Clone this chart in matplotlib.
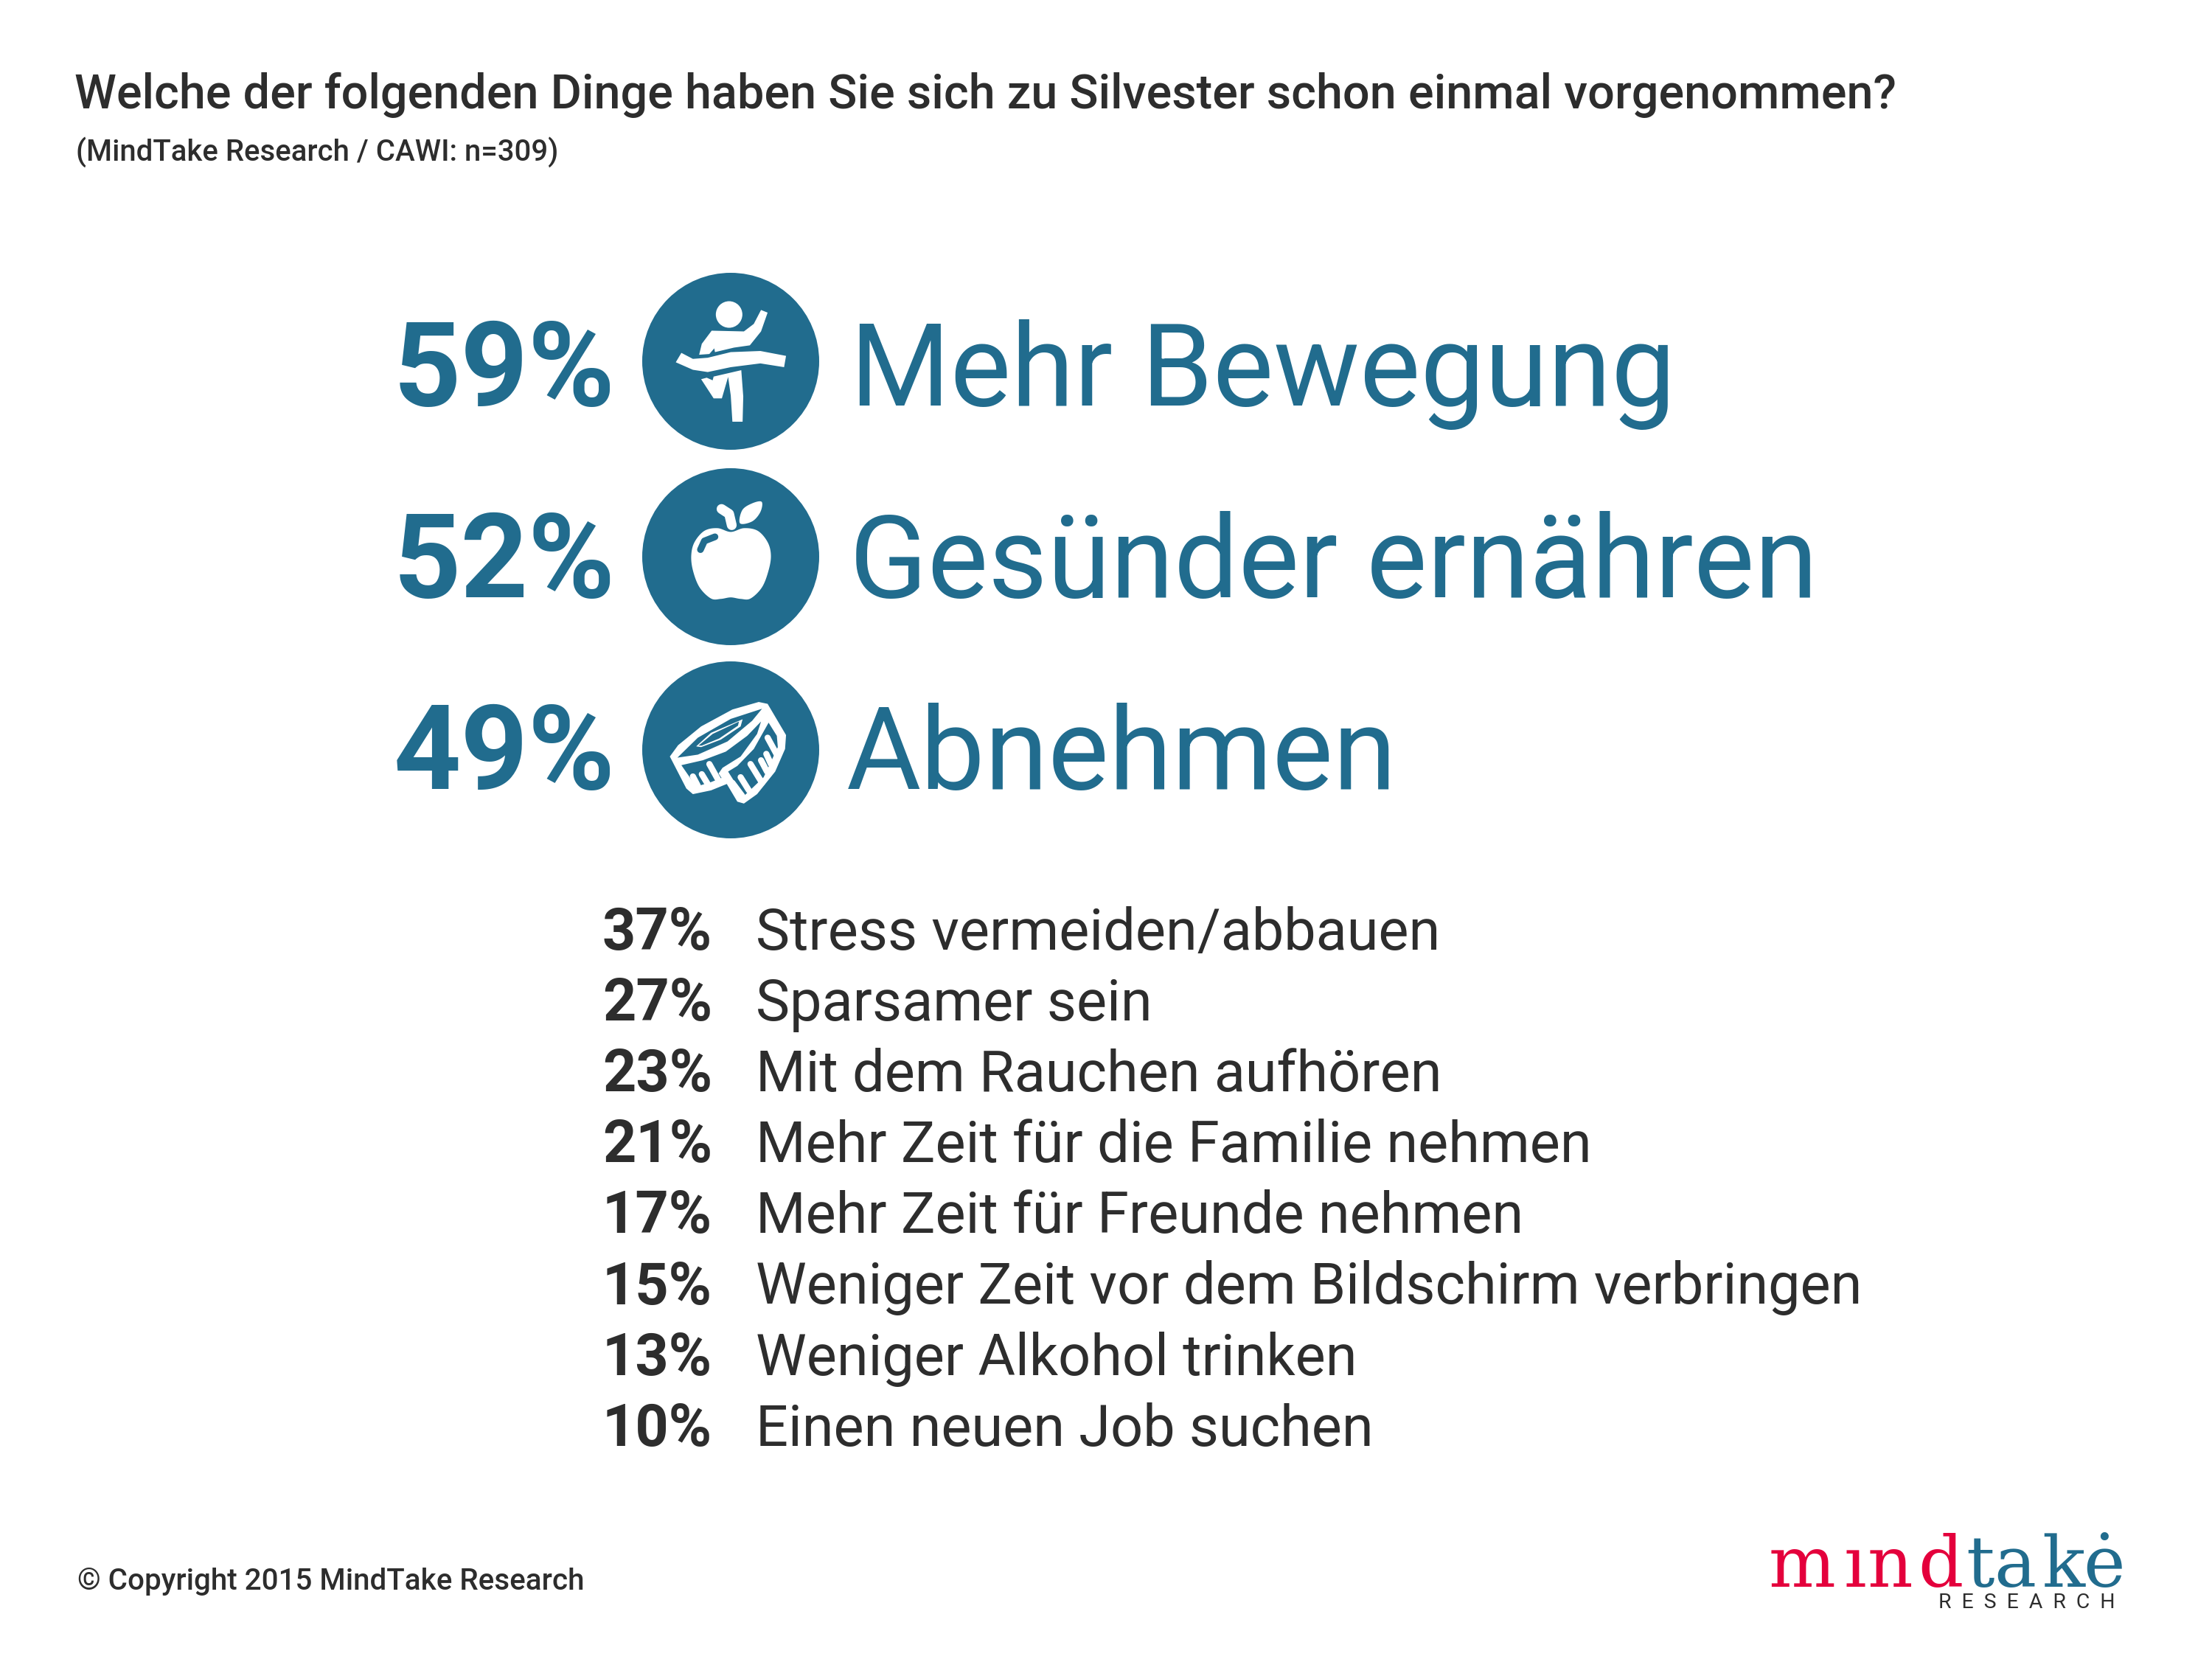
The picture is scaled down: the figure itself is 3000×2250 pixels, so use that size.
import matplotlib
matplotlib.use("Agg")
import matplotlib.pyplot as plt
from matplotlib.patches import Circle, Polygon
import numpy as np

TEAL = "#216C8E"
DARK = "#2D2D2D"
RED = "#E4003C"

title = "Welche der folgenden Dinge haben Sie sich zu Silvester schon einmal vorgenommen?"
subtitle = "(MindTake Research / CAWI: n=309)"
footer = "© Copyright 2015 MindTake Research"

top_labels = ["Mehr Bewegung", "Gesünder ernähren", "Abnehmen"]
top_values = [59, 52, 49]

rest_labels = ["Stress vermeiden/abbauen", "Sparsamer sein", "Mit dem Rauchen aufhören",
               "Mehr Zeit für die Familie nehmen", "Mehr Zeit für Freunde nehmen",
               "Weniger Zeit vor dem Bildschirm verbringen", "Weniger Alkohol trinken",
               "Einen neuen Job suchen"]
rest_values = [37, 27, 23, 21, 17, 15, 13, 10]

plt.rcParams["font.family"] = ["Roboto", "DejaVu Sans"]

fig = plt.figure(figsize=(10, 7.5), dpi=300)
ax = fig.add_axes([0, 0, 1, 1])
# axes in image pixels, y going down
ax.set_xlim(0, 3000)
ax.set_ylim(2250, 0)
ax.axis("off")


def smooth(pts, n=12):
    # closed catmull-rom through the outline points
    p = np.array(pts, dtype=float)
    out = []
    for i in range(len(p)):
        p0, p1, p2, p3 = p[i - 1], p[i], p[(i + 1) % len(p)], p[(i + 2) % len(p)]
        for t in np.linspace(0, 1, n, endpoint=False):
            out.append(0.5 * (2 * p1 + (p2 - p0) * t + (2 * p0 - 5 * p1 + 4 * p2 - p3) * t ** 2
                              + (3 * p1 - p0 - 3 * p2 + p3) * t ** 3))
    return np.array(out)


def conv(pts):
    p = np.array(pts, dtype=float)
    return np.column_stack([500 + p[:, 0] / 2.24, 350 + p[:, 1] / 1.96])


def shape(pts, color="white", curved=False, z=3):
    p = conv(pts)
    if curved:
        p = smooth(p)
    ax.add_patch(Polygon(p, closed=True, fc=color, ec="none", zorder=z))


def stroke(pts, color="white", lw=3.0, z=4):
    p = conv(pts)
    ax.plot(p[:, 0], p[:, 1], color=color, lw=lw, solid_capstyle="round", zorder=z)


def runner():
    c = conv([(1095, 150)])[0]
    ax.add_patch(Circle(c, 18, fc="white", ec="none", zorder=3))
    shape([(1042, 193), (1140, 195), (1170, 175), (1192, 138), (1212, 145), (1192, 195), (1158, 232),
           (1110, 238), (1052, 250), (1050, 240), (1035, 255), (1004, 257), (1012, 228)])
    shape([(950, 252), (985, 268), (1030, 265), (1100, 250), (1190, 247), (1268, 260), (1262, 290),
           (1190, 280), (1100, 290), (1030, 303), (985, 297), (933, 277)])
    shape([(1010, 322), (1027, 318), (1045, 325), (1048, 315), (1132, 298), (1138, 368), (1136, 435),
           (1105, 435), (1100, 365), (1092, 316), (1073, 373), (1048, 373)])


def apple():
    shape([(1100, 728), (1060, 718), (1020, 725), (990, 755), (980, 790), (985, 830), (1005, 875),
           (1040, 905), (1070, 906), (1100, 902), (1130, 906), (1160, 905), (1195, 875), (1215, 830),
           (1222, 790), (1212, 755), (1182, 725), (1140, 718)], curved=True)
    stroke([(1008, 775), (1020, 752), (1052, 741)], color=TEAL, lw=2.2)
    stroke([(1072, 667), (1095, 680), (1103, 710)], lw=3.2)
    shape([(1128, 705), (1135, 670), (1165, 652), (1194, 648), (1190, 675), (1165, 700)], curved=True)


def tape():
    shape([(915, 1325), (940, 1295), (1010, 1245), (1105, 1200), (1185, 1180), (1212, 1185), (1268, 1268),
           (1265, 1305), (1235, 1365), (1180, 1425), (1140, 1450), (1120, 1445), (1088, 1398), (1040, 1415),
           (985, 1425), (965, 1410)])
    shape([(938, 1328), (1000, 1275), (1100, 1225), (1195, 1198), (1165, 1230), (1090, 1285), (1000, 1320)],
          color=TEAL, z=4)
    shape([(995, 1298), (1040, 1262), (1136, 1226), (1130, 1245), (1070, 1280), (1010, 1300)], z=5)
    shape([(1002, 1296), (1045, 1265), (1125, 1232), (1122, 1243), (1065, 1277), (1012, 1296)], color=TEAL, z=6)
    # band, left and right of the loose end
    shape([(950, 1348), (1015, 1335), (1085, 1312), (1150, 1270), (1192, 1232), (1180, 1265), (1130, 1325),
           (1075, 1355), (1063, 1370), (1072, 1382), (1040, 1393), (995, 1405)], color=TEAL, z=4)
    shape([(1092, 1365), (1120, 1350), (1170, 1305), (1215, 1235), (1240, 1270), (1243, 1300), (1200, 1380),
           (1140, 1430), (1135, 1425)], color=TEAL, z=4)
    for (x0, y0), (x1, y1) in [((985, 1378), (1000, 1403)), ((1012, 1372), (1030, 1398)),
                               ((1035, 1345), (1065, 1392)), ((1105, 1395), (1135, 1430)),
                               ((1130, 1380), (1155, 1415)), ((1160, 1345), (1195, 1395)),
                               ((1192, 1335), (1210, 1365)), ((1208, 1318), (1222, 1345)),
                               ((1212, 1275), (1240, 1320))]:
        stroke([(x0, y0), (x1, y1)], lw=2.0, z=5)


# big rows
big_y = [550, 810, 1070]
circle_y = [490, 755, 1017]
label_x = [1153, 1152, 1148]
for v, lab, yb, cy, lx in zip(top_values, top_labels, big_y, circle_y, label_x):
    ax.text(835, yb, f"{v}%", color=TEAL, fontsize=38.3, fontweight="bold", ha="right", va="baseline")
    ax.add_patch(Circle((991, cy), 120, fc=TEAL, ec="none", zorder=2))
    ax.text(lx, yb, lab, color=TEAL, fontsize=37.3, ha="left", va="baseline")
runner()
apple()
tape()

# smaller rows
for i, (v, lab) in enumerate(zip(rest_values, rest_labels)):
    yb = 1288 + i * 96.1
    ax.text(966, yb, f"{v}%", color=DARK, fontsize=19, fontweight="bold", ha="right", va="baseline")
    ax.text(1025, yb, lab, color=DARK, fontsize=18.6, ha="left", va="baseline")

ax.text(101, 147, title, color=DARK, fontsize=15.52, fontweight="medium", va="baseline")
ax.text(103, 218, subtitle, color=DARK, fontsize=9.65, fontweight="medium", va="baseline")
ax.text(105, 2156, footer, color=DARK, fontsize=9.7, fontweight="medium", va="baseline")

# logo, letter by letter
logo_letters = list("mındtakė")
logo_x = [2399, 2501, 2533, 2601, 2666, 2704, 2769, 2825]
logo_col = [RED] * 4 + [TEAL] * 4
for ch, x, col in zip(logo_letters, logo_x, logo_col):
    ax.text(x, 2152, ch, color=col, fontsize=23, family="DejaVu Serif", va="baseline")
ax.text(2629, 2181, "R  E  S  E  A  R  C  H", color=DARK, fontsize=6.8, va="baseline")

fig.savefig("out.png", dpi=300)
